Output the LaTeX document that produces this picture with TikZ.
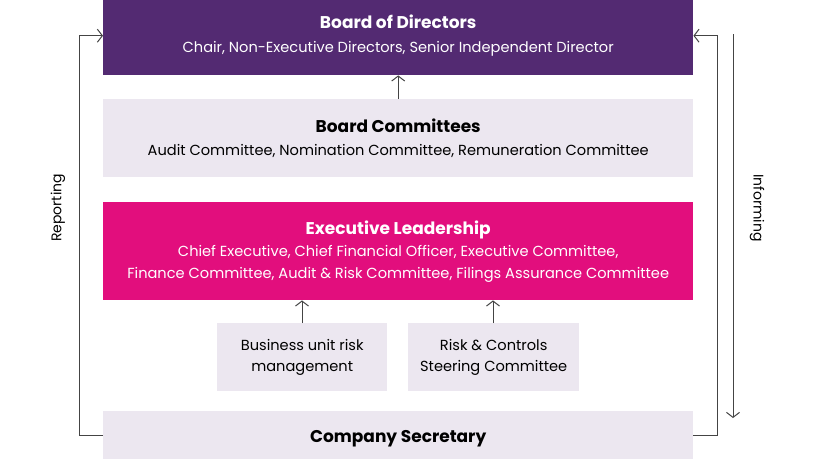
\documentclass[tikz,border=0pt]{standalone}
\usepackage{fontspec}
\setmainfont{Poppins}
\usetikzlibrary{arrows.meta}
\definecolor{bpurple}{HTML}{532A72}
\definecolor{blav}{HTML}{ECE7F0}
\definecolor{bpink}{HTML}{E20E7D}
\definecolor{lgray}{HTML}{444444}
\begin{document}
\begin{tikzpicture}[x=1pt,y=-1pt,
  box/.style={rectangle, inner sep=0pt, anchor=north west, align=center, font=\fontsize{14.6}{21.5}\selectfont},
  conn/.style={draw=lgray, line width=1pt, -{Straight Barb[length=5pt,width=13pt,line width=1pt]}}]
\useasboundingbox (0,0) rectangle (816,459);
\node[box, fill=bpurple, text=white, minimum width=590pt, minimum height=79pt] (board) at (103,-4)
  {{\fontsize{17}{20}\selectfont\bfseries Board of Directors}\\[2pt] Chair, Non-Executive Directors, Senior Independent Director};
\node[box, fill=blav, text=black, minimum width=590pt, minimum height=78pt] (comm) at (103,99)
  {{\fontsize{17}{20}\selectfont\bfseries Board Committees}\\[2pt] Audit Committee, Nomination Committee, Remuneration Committee};
\node[box, fill=bpink, text=white, minimum width=590pt, minimum height=98pt] (exec) at (103,202)
  {{\fontsize{17}{20}\selectfont\bfseries Executive Leadership}\\[1pt] Chief Executive, Chief Financial Officer, Executive Committee,\\ Finance Committee, Audit \& Risk Committee, Filings Assurance Committee};
\node[box, fill=blav, text=black, minimum width=170pt, minimum height=68pt] (bu) at (217,323)
  {Business unit risk\\ management};
\node[box, fill=blav, text=black, minimum width=171pt, minimum height=68pt] (rc) at (408,323)
  {Risk \& Controls\\ Steering Committee};
\node[box, fill=blav, text=black, minimum width=590pt, minimum height=48pt] (sec) at (103,411)
  {\raisebox{-3pt}[\height][\depth]{\fontsize{17}{20}\selectfont\bfseries Company Secretary}};
\draw[conn] (comm.north) -- (board.south);
\draw[conn] (bu.north -| 302,0) -- (exec.south -| 302,0);
\draw[conn] (rc.north -| 493,0) -- (exec.south -| 493,0);
\draw[conn] (sec.west) -- ++(-24,0) |- (board.west);
\draw[conn] (sec.east) -- ++(24,0) |- (board.east);
\coordinate (inftop) at (733,34);
\coordinate (infbot) at (733,418);
\draw[conn] (inftop) -- (infbot);
\node[rotate=90, font=\fontsize{14}{16}\selectfont] (rep) at (58,208) {Reporting};
\node[rotate=-90, font=\fontsize{14}{16}\selectfont] (inf) at (757,208) {Informing};
\end{tikzpicture}
\end{document}
